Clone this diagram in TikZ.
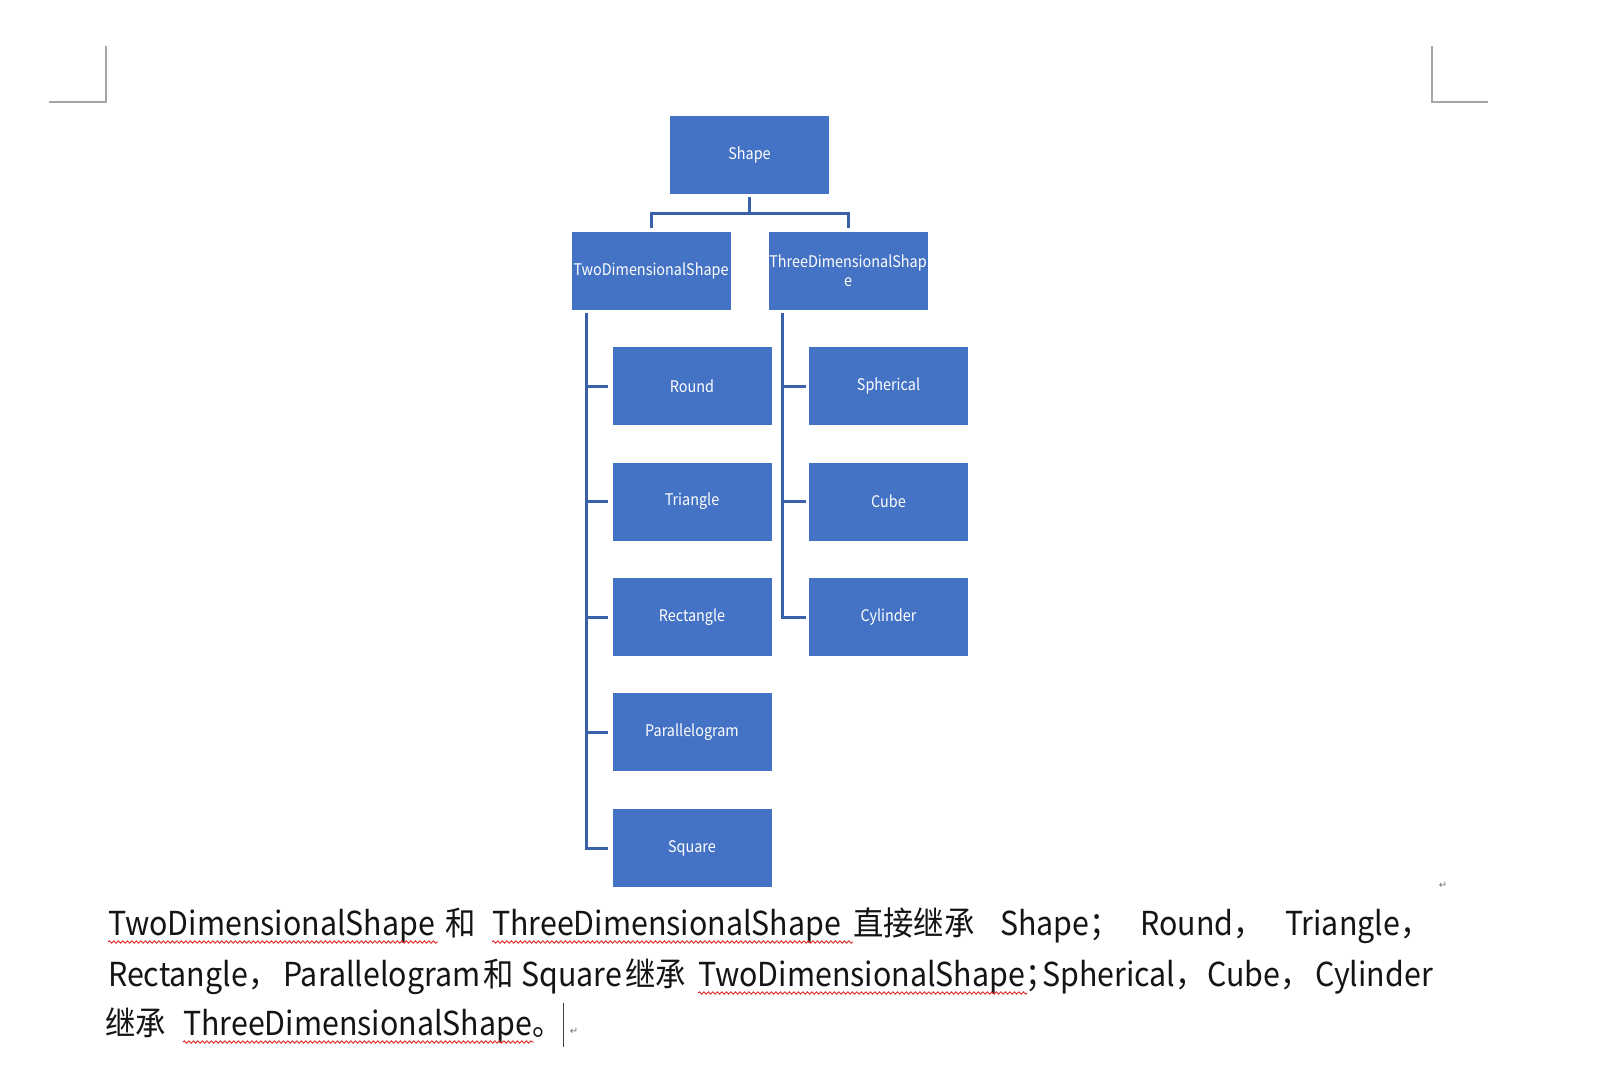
\documentclass[tikz,border=0pt]{standalone}
\usepackage{fontspec}
\setmainfont{Noto Sans CJK SC}
\newfontfamily\bodyfont{Noto Sans CJK SC}[FakeStretch=0.92]
\newfontfamily\boxfont{Noto Sans CJK SC}[FakeStretch=0.9]
\newfontfamily\djv{DejaVu Sans}
\usetikzlibrary{calc,decorations.pathmorphing}
\definecolor{boxblue}{HTML}{4472C4}
\definecolor{linkblue}{HTML}{3A62AB}
\definecolor{cropgray}{HTML}{A6A6A6}
\definecolor{wavered}{HTML}{E02525}
\tikzset{
  box/.style={fill=boxblue, draw=none, minimum width=159pt, minimum height=78pt,
    inner sep=0pt, text=white, font=\boxfont\fontsize{16}{19}\selectfont, align=center},
  conn/.style={draw=linkblue, line width=3pt},
  crop/.style={draw=cropgray, line width=1.3pt},
  body/.style={anchor=base west, inner sep=0pt, font=\bodyfont\fontsize{33}{40}\selectfont, text=black!92},
  wavy/.style={draw=wavered, line width=0.9pt, decorate,
    decoration={snake, segment length=4.5pt, amplitude=1.2pt}},
  retmark/.style={text=black!55, font=\djv\fontsize{10}{10}\selectfont, inner sep=0pt},
  cursorline/.style={draw=black!75, line width=1pt}
}
\begin{document}
\begin{tikzpicture}[x=1pt,y=-1pt]
\fill[white] (0,0) rectangle (1609,1092);
\useasboundingbox (0,0) rectangle (1609,1092);

% crop marks
\draw[crop] (106,46) -- (106,102) -- (49,102);
\draw[crop] (1432,46) -- (1432,102) -- (1488,102);

% boxes
\node[box] (shape) at (749.5,155) {Shape};
\node[box] (two) at (651,270.5) {TwoDimensionalShape};
\node[box] (three) at (848,270.5) {ThreeDimensionalShap\\e};
\node[box] (round) at (692,386) {Round};
\node[box] (triangle) at (692,501.5) {Triangle};
\node[box] (rectangle) at (692,617) {Rectangle};
\node[box] (parallelogram) at (692,732) {Parallelogram};
\node[box] (square) at (692,848) {Square};
\node[box] (spherical) at (888.5,386) {Spherical};
\node[box] (cube) at (888.5,501.5) {Cube};
\node[box] (cylinder) at (888.5,617) {Cylinder};

% connectors
\coordinate (bar) at ($(shape.south)+(0,19)$);
\draw[conn] ($(shape.south)+(0,3)$) -- (bar);
\draw[conn] ($(two.north)+(0,-3)$) |- (bar) -| ($(three.north)+(0,-3)$);

\coordinate (lt) at ($(two.south west)+(15,3)$);
\draw[conn] (lt) |- ($(square.west)+(-4,0)$);
\foreach \n in {round,triangle,rectangle,parallelogram}
  \draw[conn] (lt |- \n.west) -- ($(\n.west)+(-4,0)$);

\coordinate (rt) at ($(three.south west)+(14,3)$);
\draw[conn] (rt) |- ($(cylinder.west)+(-3,0)$);
\foreach \n in {spherical,cube}
  \draw[conn] (rt |- \n.west) -- ($(\n.west)+(-3,0)$);

% paragraph, line 1
\node[body] (t1a) at (108,935) {TwoDimensionalShape};
\node[body] (t1b) at (445,935) {和};
\node[body] (t1c) at (492,935) {ThreeDimensionalShape};
\node[body] (t1d) at (853,935) {直接继承};
\node[body] (t1e) at (1000,935) {Shape\makebox[16pt][l]{；}};
\node[body] (t1f) at (1140,935) {Round\makebox[16pt][l]{，}};
\node[body] (t1g) at (1285,935) {Triangle\makebox[16pt][l]{，}};
% line 2
\node[body] (t2a) at (108,986) {Rectangle\makebox[16pt][l]{，}};
\node[body] (t2b) at (283,986) {Parallelogram};
\node[body] (t2c) at (483,986) {和};
\node[body] (t2d) at (521,986) {Square};
\node[body] (t2e) at (625,986) {继承};
\node[body] (t2f) at (698,986) {TwoDimensionalShape};
\node[body] (t2g) at (t2f.base east) {\makebox[12pt][l]{；}};
\node[body] (t2h) at (1042,986) {Spherical\makebox[16pt][l]{，}};
\node[body] (t2i) at (1207,986) {Cube\makebox[16pt][l]{，}};
\node[body] (t2j) at (1315,986) {Cylinder};
% line 3
\node[body] (t3a) at (105,1035) {继承};
\node[body] (t3b) at (183,1035) {ThreeDimensionalShape};
\node[body] (t3c) at (t3b.base east) {\makebox[16pt][l]{。}};

% spelling underlines
\draw[wavy] ($(t1a.base west)+(0,7)$) -- ($(t1a.base east)+(3,7)$);
\draw[wavy] ($(t1c.base west)+(0,7)$) -- ($(t1c.base east)+(12,7)$);
\draw[wavy] ($(t2f.base west)+(0,7)$) -- ($(t2f.base east)+(2,7)$);
\draw[wavy] ($(t3b.base west)+(0,7)$) -- ($(t3b.base east)+(2,7)$);

% cursor and paragraph marks
\draw[cursorline] (563,1003) -- (563,1047);
\node[retmark] (ret1) at (574,1031) {↵};
\node[retmark] (ret2) at (1443,885) {↵};
\end{tikzpicture}
\end{document}
